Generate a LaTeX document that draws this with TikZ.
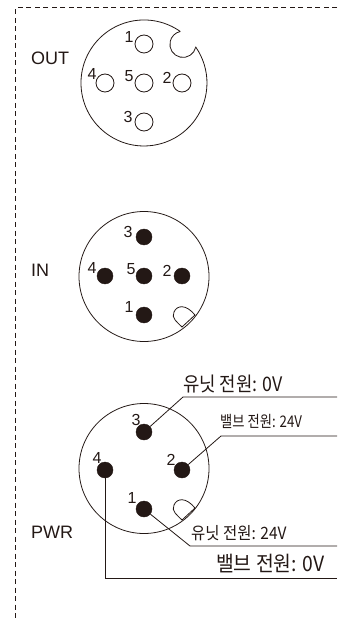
\documentclass[tikz,border=0pt]{standalone}
\usepackage{fontspec}
\setmainfont{Liberation Sans}
\newfontfamily\krfont{Noto Sans CJK KR}
\definecolor{inkdark}{HTML}{231815}
\tikzset{
	pinfill/.style={circle,draw=inkdark,fill=inkdark,inner sep=0pt,minimum size=16pt},
	pinopen/.style={circle,draw=inkdark,fill=white,line width=.8pt,inner sep=0pt,minimum size=18pt},
	pinnum/.style={text=inkdark,inner sep=0pt,font=\fontsize{16}{16}\selectfont},
	portname/.style={text=inkdark,inner sep=0pt,anchor=west,font=\fontsize{18}{18}\selectfont},
	wirename/.style={text=inkdark,inner sep=0pt,transform shape,font=\krfont\fontsize{#1}{#1}\selectfont},
	wire/.style={draw=inkdark,line width=.8pt},
	body/.style={draw=inkdark,line width=.8pt}
}
\begin{document}
\begin{tikzpicture}[x=1pt,y=-1pt]
	\useasboundingbox (0,0) rectangle (337,620);
	% frame
	\draw[inkdark,line width=1pt,dash pattern=on 5pt off 3.5pt] (337,8) -- (15.5,8) -- (15.5,620);
	% OUT connector
	\draw[body] (180.3,31.5) arc[start angle=-54.8,end angle=-394.7,radius=63]
		arc[start angle=12.3,end angle=258,radius=13.1];
	\foreach \X/\Y/\N/\A/\B in {144/44/1/129/37, 182/83/2/167/78, 144/122/3/128/117, 105/83/4/92/74, 144/83/5/129/76}
	{\node[pinopen] (o\N) at (\X,\Y) {};
	 \node[pinnum] (ol\N) at (\A,\B) {\N};}
	\node[portname] (outname) at (31,58) {OUT};
	% IN connector
	\draw[body] (144,276.5) circle[radius=65];
	\foreach \X/\Y/\N/\A/\B in {144/237/3/128/232, 182/276/2/167/271, 144/315/1/129/307, 105/276/4/92/268, 144/276/5/131/269}
	{\node[pinfill] (i\N) at (\X,\Y) {};
	 \node[pinnum] (il\N) at (\A,\B) {\N};}
	\node[portname] (inname) at (31,270) {IN};
	% PWR connector
	\draw[body] (144,468.5) circle[radius=65];
	\foreach \X/\Y/\N/\A/\B in {144/432/3/136/420, 182/470/2/171/460, 144/509/1/132/498, 105/470/4/97/458}
	{\node[pinfill] (p\N) at (\X,\Y) {};
	 \node[pinnum] (pl\N) at (\A,\B) {\N};}
	\node[portname] (pwrname) at (31,532) {PWR};
	% keys
	\foreach \Y in {0,193}
	{\draw[body,yshift=-\Y pt] (195,315) -- (182,327) .. controls (177,322) and (171,318) .. (174,312)
		.. controls (177,305) and (186,304) .. (195,315);}
	% wires
	\coordinate (k3) at (183,397);
	\coordinate (e3) at (337,397);
	\coordinate (k2) at (221,436);
	\coordinate (e2) at (337,436);
	\coordinate (k1) at (190,546);
	\coordinate (e1) at (337,546);
	\coordinate (k4) at (105,578);
	\coordinate (e4) at (337,578);
	\draw[wire] (p3) -- (k3) -- (e3);
	\draw[wire] (p2) -- (k2) -- (e2);
	\draw[wire] (p1) -- (k1) -- (e1);
	\draw[wire] (p4) -- (k4) -- (e4);
	% wire labels
	\node[wirename=20,xscale=.89,anchor=base west] (n3) at (183,391) {유닛 전원: 0V};
	\node[wirename=16,xscale=.83,anchor=base west] (n2) at (220,427) {밸브 전원: 24V};
	\node[wirename=17,xscale=.91,anchor=base west] (n1) at (191,539) {유닛 전원: 24V};
	\node[wirename=21,xscale=.92,anchor=base west] (n4) at (216,571) {밸브 전원: 0V};
\end{tikzpicture}
\end{document}
